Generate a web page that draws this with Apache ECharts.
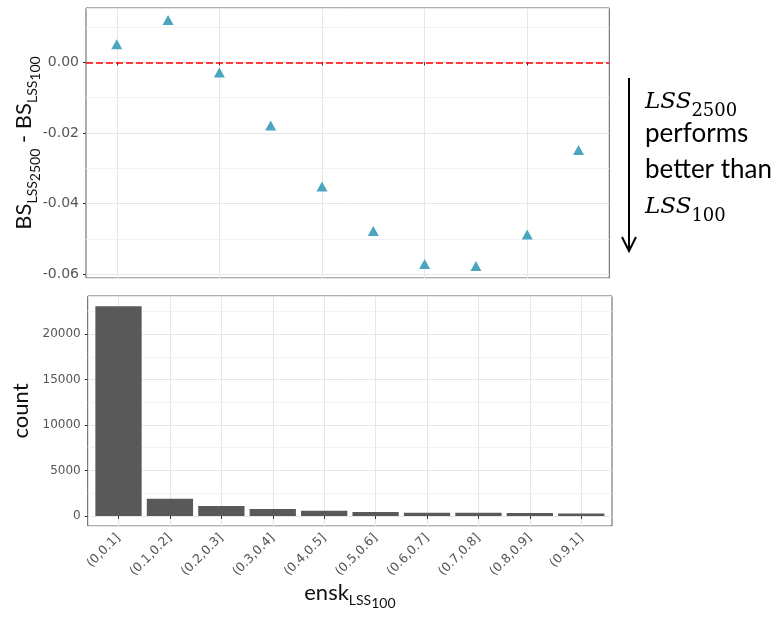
<!DOCTYPE html>
<html>
<head>
<meta charset="utf-8">
<script src="https://cdn.jsdelivr.net/npm/echarts@6/dist/echarts.min.js"></script>
<style>
  html, body { margin: 0; padding: 0; background: #fff; }
  #chart { width: 777px; height: 623px; }
</style>
</head>
<body>
<div id="chart"></div>
<script>
// bins of ensk_LSS100
const categories = ['(0,0.1]', '(0.1,0.2]', '(0.2,0.3]', '(0.3,0.4]', '(0.4,0.5]',
                    '(0.5,0.6]', '(0.6,0.7]', '(0.7,0.8]', '(0.8,0.9]', '(0.9,1]']
// BS_LSS2500 - BS_LSS100 per bin
const bsDiff = [0.0051, 0.0120, -0.0029, -0.0179, -0.0352, -0.0478, -0.0571, -0.0577, -0.0488, -0.0248]
// number of cases per bin
const counts = [23050, 1900, 1100, 760, 590, 450, 360, 350, 340, 270]
// axis ranges (ggplot default 5% expansion)
const diffRange = [-0.0611, 0.0154]
const countRange = [-1099, 24176]

const chart = echarts.init(document.getElementById('chart'))

const tickFont = { color: '#555', fontFamily: 'DejaVu Sans', fontSize: 12 }
const frameColor = '#5a5a5a'
const gridMajor = '#e6e6e6'
const gridMinor = '#f2f2f2'

//上下标 rich 样式
const subRich = {
    m: { fontFamily: 'Lato', fontSize: 22, color: '#111', padding: [0, 0, 7, 0], verticalAlign: 'bottom' },
    s1: { fontFamily: 'Lato', fontSize: 14, color: '#111', padding: [0, 0, 3, 0], verticalAlign: 'bottom' },
    s2: { fontFamily: 'Lato', fontSize: 14, color: '#111', verticalAlign: 'bottom' }
}

const frameY = (range, fmt, name, gap, fs) => ({
    type: 'value',
    min: range[0],
    max: range[1],
    axisLine: { show: false },
    axisTick: { show: true, length: 3, lineStyle: { color: '#333' } },
    axisLabel: { ...tickFont, fontSize: fs, margin: 7, showMinLabel: false, showMaxLabel: false, formatter: fmt },
    splitLine: { show: true, lineStyle: { color: gridMajor, width: 1 } },
    minorTick: { show: false, splitNumber: 2 },
    minorSplitLine: { show: true, lineStyle: { color: gridMinor, width: 1 } },
    name: name,
    nameLocation: 'middle',
    nameGap: gap,
    nameMoveOverlap: false,
    nameTextStyle: { rich: subRich }
})

const hiddenY = (range) => ({
    type: 'value', min: range[0], max: range[1], show: false,
    splitLine: { show: false }
})

const catX = (showLabel) => ({
    type: 'category',
    data: categories,
    boundaryGap: true,
    axisLine: { show: false },
    axisTick: { show: true, alignWithLabel: true, length: 3, lineStyle: { color: '#333' } },
    splitLine: { show: true, alignWithLabel: true, lineStyle: { color: gridMajor, width: 1 } },
    axisLabel: showLabel ? { ...tickFont, fontSize: 12.5, rotate: 45, margin: 10, interval: 0 } : { show: false }
})

const option = {
    backgroundColor: '#fff',
    animation: false,
    grid: [
        { left: 86, top: 8, width: 523.3, height: 270, show: true, borderColor: frameColor, borderWidth: 1, outerBoundsMode: 'none' },
        { left: 91.1, top: 8, width: 513.1, height: 270, outerBoundsMode: 'none' },
        { left: 87.7, top: 296, width: 524.3, height: 230, show: true, borderColor: frameColor, borderWidth: 1, outerBoundsMode: 'none' },
        { left: 92.8, top: 296, width: 514.2, height: 230, outerBoundsMode: 'none' }
    ],
    xAxis: [
        { gridIndex: 0, type: 'value', min: 0, max: 1, show: false, splitLine: { show: false } },
        { gridIndex: 1, ...catX(false) },
        { gridIndex: 2, type: 'value', min: 0, max: 1, show: false, splitLine: { show: false } },
        {
            gridIndex: 3, ...catX(true),
            name: '{m|ensk}{s1|LSS}{s2|100}',
            nameLocation: 'middle',
            nameGap: 50,
            nameTextStyle: { rich: subRich }
        }
    ],
    yAxis: [
        { gridIndex: 0, ...frameY(diffRange, v => v.toFixed(2), '{m|BS}{s1|LSS}{s2|2500}{m| - BS}{s1|LSS}{s2|100}', 44, 14) },
        { gridIndex: 1, ...hiddenY(diffRange) },
        { gridIndex: 2, ...frameY(countRange, v => String(Math.round(v)), '{m|count}', 49, 12) },
        { gridIndex: 3, ...hiddenY(countRange) }
    ],
    series: [
        {
            // 零线
            type: 'line',
            xAxisIndex: 0,
            yAxisIndex: 0,
            data: [],
            markLine: {
                silent: true,
                symbol: 'none',
                label: { show: false },
                lineStyle: { color: '#ff0000', type: [7, 3], width: 1.5 },
                data: [{ yAxis: 0 }]
            }
        },
        {
            type: 'scatter',
            xAxisIndex: 1,
            yAxisIndex: 1,
            data: bsDiff,
            symbol: 'triangle',
            symbolSize: [11, 10],
            itemStyle: { color: '#4ba5bf', opacity: 1 }
        },
        {
            type: 'bar',
            xAxisIndex: 3,
            yAxisIndex: 3,
            data: counts,
            barWidth: '90%',
            itemStyle: { color: '#595959' }
        }
    ],
    graphic: [
        { type: 'line', shape: { x1: 629, y1: 78, x2: 629, y2: 250 }, style: { stroke: '#000', lineWidth: 2 } },
        { type: 'polyline', shape: { points: [[622, 237], [629, 251], [636, 237]] }, style: { stroke: '#000', lineWidth: 2, fill: null } },
        {
            type: 'text', left: 645, top: 91,
            style: {
                text: '{i|LSS}{n|2500}',
                rich: {
                    i: { fontFamily: 'DejaVu Serif', fontStyle: 'italic', fontSize: 23, fill: '#000', padding: [0, 0, 6, 0], verticalAlign: 'bottom' },
                    n: { fontFamily: 'DejaVu Serif', fontSize: 18, fill: '#000', verticalAlign: 'bottom' }
                }
            }
        },
        { type: 'text', left: 645, top: 121, style: { text: 'performs', font: '26px Lato', fill: '#000' } },
        { type: 'text', left: 645, top: 157, style: { text: 'better than', font: '26px Lato', fill: '#000' } },
        {
            type: 'text', left: 645, top: 196,
            style: {
                text: '{i|LSS}{n|100}',
                rich: {
                    i: { fontFamily: 'DejaVu Serif', fontStyle: 'italic', fontSize: 23, fill: '#000', padding: [0, 0, 6, 0], verticalAlign: 'bottom' },
                    n: { fontFamily: 'DejaVu Serif', fontSize: 18, fill: '#000', verticalAlign: 'bottom' }
                }
            }
        }
    ]
}

chart.setOption(option)
</script>
</body>
</html>
